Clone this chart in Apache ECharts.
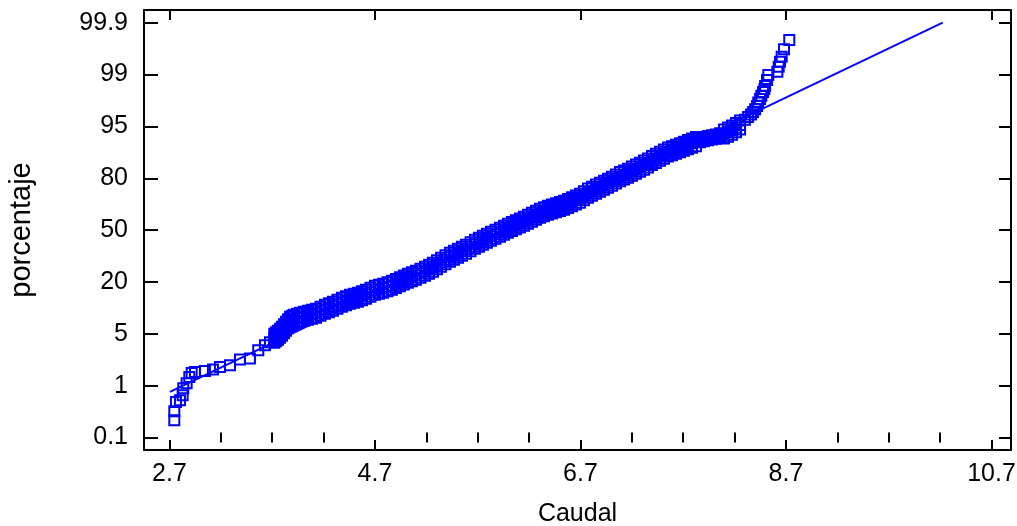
<!DOCTYPE html>
<html>
<head>
<meta charset="utf-8">
<script src="https://cdn.jsdelivr.net/npm/echarts@6/dist/echarts.min.js"></script>
<style>
  html, body { margin: 0; padding: 0; background: #fff; }
  #chart { width: 1017px; height: 526px; }
</style>
</head>
<body>
<div id="chart"></div>
<script>
// percent labels sit on equally spaced rows 0..8
var yTickPos = [0, 1, 2, 3, 4, 5, 6, 7, 8];
var yTickLabels = ["0.1", "1", "5", "20", "50", "80", "95", "99", "99.9"];
var xMajor = [2.7, 4.7, 6.7, 8.7, 10.7];
var xMinor = [3.2, 3.7, 4.2, 5.2, 5.7, 6.2, 7.2, 7.7, 8.2, 9.2, 9.7, 10.2];

// sparse points of the two tails (caudal, row)
var caudalCola = [2.747, 2.747, 2.763, 2.802, 2.828, 2.834, 2.867, 2.893, 2.916, 2.948,
  3.045, 3.123, 3.191, 3.289, 3.386, 3.483, 3.564, 3.629, 3.678,
  8.30, 8.331, 8.36, 8.380, 8.40, 8.419, 8.43, 8.448, 8.46, 8.477, 8.49, 8.497,
  8.516, 8.528, 8.616, 8.629, 8.642, 8.658, 8.681, 8.732];
var filaCola = [0.334, 0.507, 0.687, 0.720, 0.816, 0.951, 1.048, 1.169, 1.246, 1.266,
  1.285, 1.312, 1.362, 1.395, 1.505, 1.524, 1.684, 1.781, 1.839,
  6.13, 6.180, 6.23, 6.276, 6.33, 6.392, 6.46, 6.527, 6.59, 6.662, 6.72, 6.778,
  6.894, 6.990, 7.054, 7.150, 7.247, 7.343, 7.486, 7.665];

// dense middle band: caudal with upper, middle and lower rows of squares
var caudalBanda = [3.720, 3.738, 3.756, 3.776, 3.795, 3.815, 3.834, 3.854, 3.873, 3.893,
  3.912, 3.941, 3.970, 4.009, 4.048, 4.087, 4.126, 4.170, 4.213, 4.252,
  4.291, 4.335, 4.379, 4.418, 4.457, 4.496, 4.534, 4.573, 4.612, 4.656,
  4.700, 4.739, 4.778, 4.822, 4.865, 4.904, 4.943, 4.982, 5.021, 5.060,
  5.099, 5.143, 5.187, 5.226, 5.264, 5.303, 5.342, 5.386, 5.430, 5.469,
  5.508, 5.547, 5.586, 5.630, 5.673, 5.712, 5.751, 5.790, 5.829, 5.873,
  5.917, 5.956, 5.994, 6.033, 6.072, 6.111, 6.150, 6.189, 6.228, 6.267,
  6.306, 6.345, 6.384, 6.423, 6.462, 6.501, 6.540, 6.579, 6.617, 6.656,
  6.695, 6.734, 6.773, 6.812, 6.851, 6.890, 6.929, 6.968, 7.007, 7.046,
  7.085, 7.124, 7.162, 7.201, 7.240, 7.279, 7.318, 7.357, 7.396, 7.435,
  7.474, 7.513, 7.552, 7.591, 7.630, 7.669, 7.707, 7.746, 7.785, 7.824,
  7.863, 7.902, 7.941, 7.980, 8.019, 8.058, 8.097, 8.136, 8.175, 8.214, 8.253];
var filaSup = [2.003, 2.032, 2.061, 2.099, 2.138, 2.186, 2.234, 2.282, 2.331, 2.350,
  2.369, 2.388, 2.408, 2.427, 2.447, 2.466, 2.485, 2.524, 2.562, 2.591,
  2.620, 2.658, 2.697, 2.726, 2.755, 2.774, 2.794, 2.823, 2.852, 2.890,
  2.929, 2.948, 2.968, 2.996, 3.025, 3.059, 3.093, 3.126, 3.160, 3.189,
  3.218, 3.257, 3.296, 3.334, 3.373, 3.421, 3.469, 3.517, 3.566, 3.604,
  3.643, 3.681, 3.720, 3.768, 3.816, 3.855, 3.894, 3.932, 3.971, 4.009,
  4.048, 4.086, 4.125, 4.159, 4.193, 4.226, 4.260, 4.298, 4.337, 4.376,
  4.415, 4.443, 4.472, 4.496, 4.521, 4.545, 4.569, 4.602, 4.636, 4.670,
  4.704, 4.752, 4.801, 4.839, 4.878, 4.916, 4.955, 4.993, 5.032, 5.075,
  5.119, 5.152, 5.186, 5.225, 5.264, 5.302, 5.341, 5.384, 5.428, 5.471,
  5.514, 5.553, 5.592, 5.620, 5.649, 5.678, 5.707, 5.736, 5.765, 5.794,
  5.776, 5.795, 5.815, 5.829, 5.844, 5.868, 5.939, 5.977, 6.016, 6.064, 6.113];
var filaMed = [1.916, 1.945, 1.974, 2.012, 2.051, 2.099, 2.147, 2.195, 2.244, 2.263,
  2.282, 2.301, 2.321, 2.340, 2.360, 2.379, 2.398, 2.437, 2.475, 2.504,
  2.533, 2.571, 2.610, 2.639, 2.668, 2.687, 2.707, 2.736, 2.765, 2.803,
  2.842, 2.861, 2.881, 2.909, 2.938, 2.972, 3.006, 3.039, 3.073, 3.102,
  3.131, 3.170, 3.209, 3.247, 3.286, 3.334, 3.382, 3.430, 3.479, 3.517,
  3.556, 3.594, 3.633, 3.681, 3.729, 3.768, 3.807, 3.845, 3.884, 3.922,
  3.961, 3.999, 4.038, 4.072, 4.106, 4.139, 4.173, 4.211, 4.250, 4.289,
  4.328, 4.356, 4.385, 4.409, 4.434, 4.458, 4.482, 4.515, 4.549, 4.583,
  4.617, 4.665, 4.714, 4.752, 4.791, 4.829, 4.868, 4.906, 4.945, 4.988,
  5.032, 5.065, 5.099, 5.138, 5.177, 5.215, 5.254, 5.297, 5.341, 5.384,
  5.427, 5.466, 5.505, 5.533, 5.562, 5.591, 5.620, 5.649, 5.678, 5.707,
  5.736, 5.755, 5.775, 5.789, 5.804, 5.828, 5.852, 5.890, 5.929, 5.977, 6.026];
var filaInf = [1.829, 1.858, 1.887, 1.925, 1.964, 2.012, 2.060, 2.108, 2.157, 2.176,
  2.195, 2.214, 2.234, 2.253, 2.273, 2.292, 2.311, 2.350, 2.388, 2.417,
  2.446, 2.484, 2.523, 2.552, 2.581, 2.600, 2.620, 2.649, 2.678, 2.716,
  2.755, 2.774, 2.794, 2.822, 2.851, 2.885, 2.919, 2.952, 2.986, 3.015,
  3.044, 3.083, 3.122, 3.160, 3.199, 3.247, 3.295, 3.343, 3.392, 3.430,
  3.469, 3.507, 3.546, 3.594, 3.642, 3.681, 3.720, 3.758, 3.797, 3.835,
  3.874, 3.912, 3.951, 3.985, 4.019, 4.052, 4.086, 4.124, 4.163, 4.202,
  4.241, 4.269, 4.298, 4.322, 4.347, 4.371, 4.395, 4.428, 4.462, 4.496,
  4.530, 4.578, 4.627, 4.665, 4.704, 4.742, 4.781, 4.819, 4.858, 4.901,
  4.945, 4.978, 5.012, 5.051, 5.090, 5.128, 5.167, 5.210, 5.254, 5.297,
  5.340, 5.379, 5.418, 5.446, 5.475, 5.504, 5.533, 5.562, 5.591, 5.620,
  5.696, 5.715, 5.735, 5.749, 5.764, 5.788, 5.765, 5.803, 5.842, 5.890, 5.939];

// fitted reference line
var fitX = [2.705, 10.225];
var fitY = [0.88, 8.0];

var xMin = 2.452, xMax = 10.89;
var yMin = -0.239, yMax = 8.245;

var puntos = caudalCola.map(function (v, i) { return [v, filaCola[i]]; });
caudalBanda.forEach(function (v, i) {
  puntos.push([v, filaSup[i]]);
  puntos.push([v, filaMed[i]]);
  puntos.push([v, filaInf[i]]);
});
var recta = fitX.map(function (v, i) { return [v, fitY[i]]; });

var chart = echarts.init(document.getElementById("chart"));
var font = "'Liberation Sans', Arial, sans-serif";
var axisLine = { show: true, onZero: false, lineStyle: { color: "#000", width: 2 } };
var tickStyle = { color: "#000", width: 2 };

var option = {
  animation: false,
  grid: { left: 144, right: 6, top: 10, bottom: 76, outerBoundsMode: "none" },
  xAxis: [
    {
      type: "value", min: xMin, max: xMax, position: "bottom",
      axisLine: axisLine,
      axisTick: { inside: true, length: 10, customValues: xMajor, lineStyle: tickStyle },
      axisLabel: { customValues: xMajor, margin: 12, fontSize: 25, color: "#000", fontFamily: font,
        formatter: function (v) { return v.toFixed(1); } },
      splitLine: { show: false },
      name: "Caudal", nameLocation: "middle", nameGap: 52,
      nameTextStyle: { fontSize: 25, color: "#000", fontFamily: font }
    },
    {
      type: "value", min: xMin, max: xMax, position: "bottom",
      axisLine: { show: false },
      axisTick: { inside: true, length: 5, customValues: xMinor, lineStyle: tickStyle },
      axisLabel: { show: false }, splitLine: { show: false }
    },
    {
      type: "value", min: xMin, max: xMax, position: "top",
      axisLine: axisLine,
      axisTick: { inside: true, length: 10, customValues: xMajor, lineStyle: tickStyle },
      axisLabel: { show: false }, splitLine: { show: false }
    },
    {
      type: "value", min: xMin, max: xMax, position: "top",
      axisLine: { show: false },
      axisTick: { inside: true, length: 5, customValues: xMinor, lineStyle: tickStyle },
      axisLabel: { show: false }, splitLine: { show: false }
    }
  ],
  yAxis: [
    {
      type: "value", min: yMin, max: yMax, position: "left",
      axisLine: axisLine,
      axisTick: { inside: true, length: 14, customValues: yTickPos, lineStyle: tickStyle },
      axisLabel: { customValues: yTickPos, margin: 16, fontSize: 25, color: "#000", fontFamily: font,
        formatter: function (v) { return yTickLabels[Math.round(v)]; } },
      splitLine: { show: false },
      name: "porcentaje", nameLocation: "middle", nameGap: 108, nameRotate: 90,
      nameTextStyle: { fontSize: 29, color: "#000", fontFamily: font }
    },
    {
      type: "value", min: yMin, max: yMax, position: "right",
      axisLine: axisLine,
      axisTick: { inside: true, length: 12, customValues: yTickPos, lineStyle: tickStyle },
      axisLabel: { show: false }, splitLine: { show: false }
    }
  ],
  series: [
    {
      type: "line", data: recta, xAxisIndex: 0, yAxisIndex: 0,
      showSymbol: false, lineStyle: { color: "#0000ff", width: 2 }, z: 2
    },
    {
      type: "scatter", data: puntos, xAxisIndex: 0, yAxisIndex: 0,
      symbol: "rect", symbolSize: 10, large: false,
      itemStyle: { color: "rgba(0,0,0,0)", borderColor: "#0000ff", borderWidth: 2, opacity: 1 }, z: 3
    }
  ]
};
chart.setOption(option);
</script>
</body>
</html>
